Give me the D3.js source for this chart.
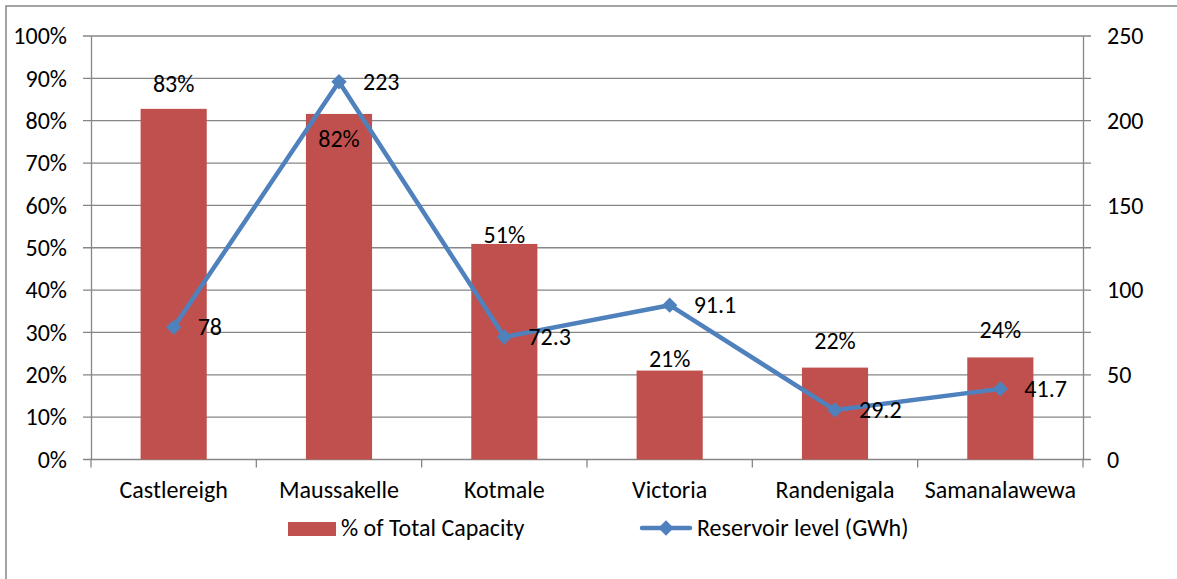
<!DOCTYPE html>
<html>
<head>
<meta charset="utf-8">
<script src="https://cdn.jsdelivr.net/npm/d3@7"></script>
<style>
  html, body { margin: 0; padding: 0; background: #fff; }
  svg { display: block; }
  text { font-family: Carlito, Lato, "Open Sans", sans-serif; fill: #000; }
</style>
</head>
<body>
<svg id="chart" width="1177" height="579"></svg>
<script>
// ---- data ----
const categories = ["Castlereigh", "Maussakelle", "Kotmale", "Victoria", "Randenigala", "Samanalawewa"];
const capacityShare = [0.828, 0.816, 0.509, 0.210, 0.217, 0.241];
const capacityLabels = ["83%", "82%", "51%", "21%", "22%", "24%"];
const reservoirLevel = [78, 223, 72.3, 91.1, 29.2, 41.7];
const reservoirLabels = ["78", "223", "72.3", "91.1", "29.2", "41.7"];
const leftTicks = [0, 0.1, 0.2, 0.3, 0.4, 0.5, 0.6, 0.7, 0.8, 0.9, 1.0];
const rightTicks = [0, 50, 100, 150, 200, 250];
const seriesNames = ["% of Total Capacity", "Reservoir level (GWh)"];

// label placement (baseline offset from bar top, px) – layout only
const barLabelDy = [-17, 33, -1, -4, -19, -19];

// ---- layout ----
const FONT = 24;
const plot = { left: 91, right: 1083, top: 36, bottom: 459.5 };
const barColor = "#C0504D";
const lineColor = "#4F81BD";
const gridColor = "#868686";

const svg = d3.select("#chart");

// outer border
svg.append("rect")
  .attr("x", 6).attr("y", 6)
  .attr("width", 1300).attr("height", 700)
  .attr("fill", "none").attr("stroke", gridColor).attr("stroke-width", 1.5);

const x = d3.scaleBand().domain(categories).range([plot.left, plot.right]).paddingInner(0).paddingOuter(0);
const yL = d3.scaleLinear().domain([0, 1]).range([plot.bottom, plot.top]);
const yR = d3.scaleLinear().domain([0, 250]).range([plot.bottom, plot.top]);

// gridlines
svg.append("g").selectAll("line").data(leftTicks).join("line")
  .attr("x1", plot.left - 8).attr("x2", plot.right + 8)
  .attr("y1", d => yL(d)).attr("y2", d => yL(d))
  .attr("stroke", gridColor).attr("stroke-width", 1.3);

// left axis
const leftAxis = d3.axisLeft(yL).tickValues(leftTicks).tickFormat(d3.format(".0%")).tickSize(0).tickPadding(24);
const gL = svg.append("g").attr("transform", `translate(${plot.left},0)`).call(leftAxis);
gL.select(".domain").attr("stroke", gridColor).attr("stroke-width", 1.3);
gL.selectAll("text").style("font-size", FONT + "px").attr("fill", "#000");

// right axis
const rightAxis = d3.axisRight(yR).tickValues(rightTicks).tickSize(0).tickPadding(24);
const gR = svg.append("g").attr("transform", `translate(${plot.right},0)`).call(rightAxis);
gR.select(".domain").attr("stroke", gridColor).attr("stroke-width", 1.3);
gR.selectAll("text").style("font-size", FONT + "px").attr("fill", "#000").attr("text-anchor", "start");

// bottom axis (category boundaries ticks)
const boundaries = categories.map(c => x(c)).concat([plot.right]);
svg.append("g").selectAll("line").data(boundaries).join("line")
  .attr("x1", d => d).attr("x2", d => d)
  .attr("y1", plot.bottom).attr("y2", plot.bottom + 8)
  .attr("stroke", gridColor).attr("stroke-width", 1.3);
svg.append("g").selectAll("text").data(categories).join("text")
  .attr("x", d => x(d) + x.bandwidth() / 2)
  .attr("y", 498)
  .attr("text-anchor", "middle")
  .style("font-size", FONT + "px")
  .text(d => d);

// bars
const barW = x.bandwidth() * 0.4;
svg.append("g").selectAll("rect").data(categories).join("rect")
  .attr("x", d => x(d) + (x.bandwidth() - barW) / 2)
  .attr("y", (d, i) => yL(capacityShare[i]))
  .attr("width", barW)
  .attr("height", (d, i) => plot.bottom - yL(capacityShare[i]))
  .attr("fill", barColor);

// bar labels
svg.append("g").selectAll("text").data(categories).join("text")
  .attr("x", d => x(d) + x.bandwidth() / 2)
  .attr("y", (d, i) => yL(capacityShare[i]) + barLabelDy[i])
  .attr("text-anchor", "middle")
  .style("font-size", FONT + "px")
  .text((d, i) => capacityLabels[i]);

// line
const pts = categories.map((c, i) => [x(c) + x.bandwidth() / 2, yR(reservoirLevel[i])]);
svg.append("path")
  .attr("d", d3.line()(pts))
  .attr("fill", "none").attr("stroke", lineColor).attr("stroke-width", 4.5)
  .attr("stroke-linejoin", "round").attr("stroke-linecap", "round");

const diamond = d3.symbol().type(d3.symbolDiamond2).size(150);
svg.append("g").selectAll("path").data(pts).join("path")
  .attr("transform", d => `translate(${d[0]},${d[1]})`)
  .attr("d", diamond)
  .attr("fill", lineColor);

// line labels
svg.append("g").selectAll("text").data(pts).join("text")
  .attr("x", d => d[0] + 24)
  .attr("y", d => d[1] + 8)
  .style("font-size", FONT + "px")
  .text((d, i) => reservoirLabels[i]);

// legend
svg.append("rect").attr("x", 288).attr("y", 522).attr("width", 48).attr("height", 14).attr("fill", barColor);
svg.append("text").attr("x", 341).attr("y", 536).style("font-size", FONT + "px").text(seriesNames[0]);
svg.append("line").attr("x1", 642).attr("x2", 690).attr("y1", 528).attr("y2", 528)
  .attr("stroke", lineColor).attr("stroke-width", 4.5).attr("stroke-linecap", "round");
svg.append("path").attr("transform", "translate(666,528)").attr("d", diamond).attr("fill", lineColor);
svg.append("text").attr("x", 697).attr("y", 536).style("font-size", FONT + "px").text(seriesNames[1]);
</script>
</body>
</html>
